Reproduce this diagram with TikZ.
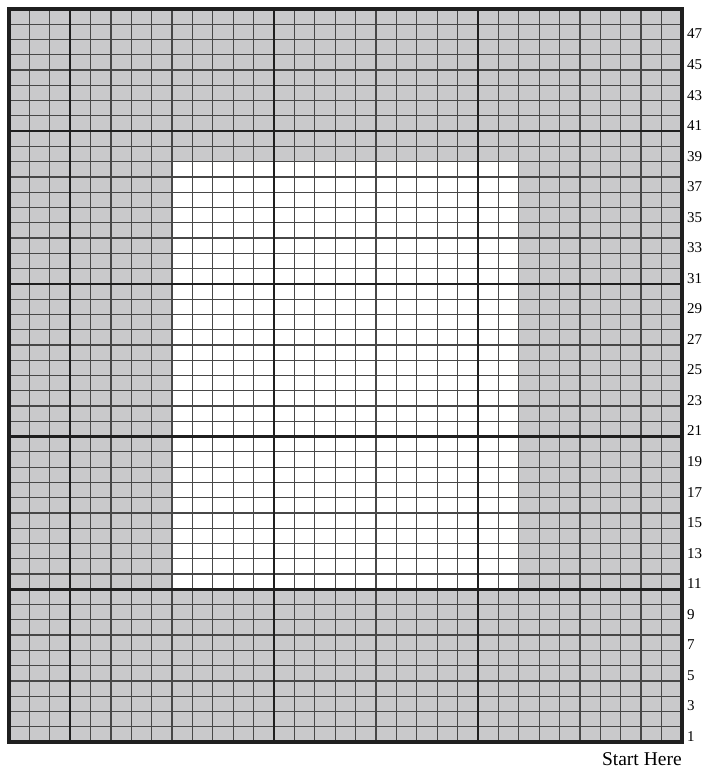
\documentclass[tikz,border=0pt]{standalone}
\usepackage{fontspec}
\setmainfont{Liberation Serif}
\definecolor{chartgray}{HTML}{C9C9CB}

\begin{document}
\begin{tikzpicture}[
  x=20.39pt, y=15.27pt,
  cellline/.style={draw=black!72, line width=1.2pt},
  blockline/.style={draw=black!88, line width=2.6pt},
  frameline/.style={draw=black!88, line width=3.4pt},
  rowlabel/.style={anchor=base west, inner sep=0pt, font=\fontsize{15}{15}\selectfont},
  startlabel/.style={anchor=base east, inner sep=0pt, font=\fontsize{19.5}{19.5}\selectfont}
]
\useasboundingbox (-0.44,-1.9) rectangle (34.23,48.59);
% background and open centre
\fill[chartgray] (0,0) rectangle (33,48);
\fill[white] (8,10) rectangle (25,38);
% stitch grid
\foreach \c in {1,...,32}
  \draw[cellline] (\c,0) -- (\c,48);
\foreach \r in {1,...,47}
  \draw[cellline] (0,\r) -- (33,\r);
% 10-stitch blocks
\foreach \c in {3,13,23}
  \draw[blockline] (\c,0) -- (\c,48);
\foreach \r in {10,20,30,40}
  \draw[blockline] (0,\r) -- (33,\r);
\draw[frameline] (0,0) rectangle (33,48);
% row numbers
\foreach \r in {1,3,...,47}
  \node[rowlabel] (row\r) at (33.25,\r-0.96) {\r};
\node[startlabel] (start) at (33,-1.57) {Start Here};
\end{tikzpicture}
\end{document}
